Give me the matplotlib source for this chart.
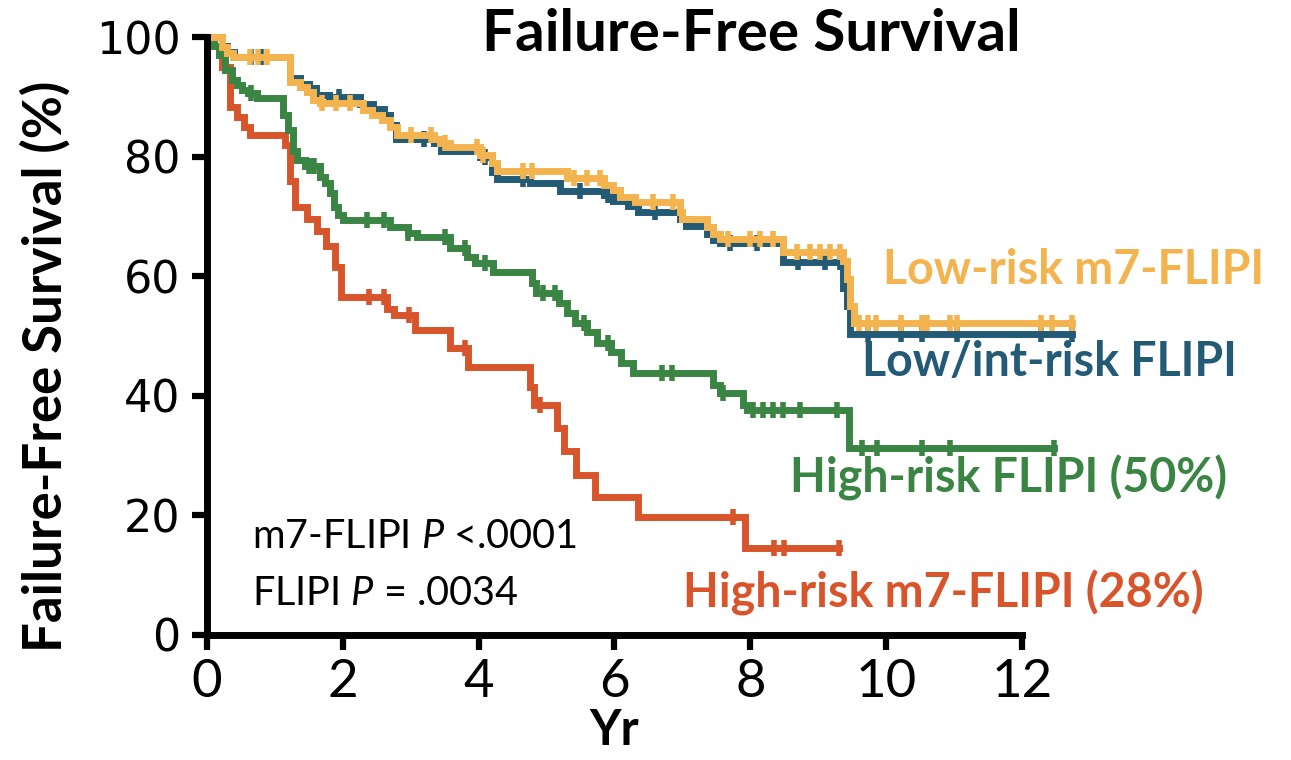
import numpy as np
import matplotlib.pyplot as plt

plt.rcParams['font.family'] = ['Lato', 'DejaVu Sans']
plt.rcParams['mathtext.fontset'] = 'custom'
plt.rcParams['mathtext.rm'] = 'Lato'
plt.rcParams['mathtext.it'] = 'Lato:italic'

# step curves: times (yr) where survival changes, survival (%) after the change
red_t = [0, 0.22, 0.34, 0.44, 0.55, 0.63, 1.15, 1.22, 1.30, 1.47, 1.62, 1.76, 1.88, 1.97,
         2.65, 2.75, 3.07, 3.58, 3.84, 4.75, 4.82, 5.15, 5.25, 5.43, 5.72, 6.35, 7.92, 9.3]
red_s = [100, 95, 88.3, 86.7, 85, 83.6, 82, 76, 71.5, 69.5, 67.5, 65, 61.5, 56.5,
         54.5, 53.5, 51, 48, 44.8, 41.4, 38.5, 34.6, 30.7, 26.7, 23.1, 19.7, 14.5, 14.5]
red_cens = [2.38, 2.6, 2.98, 3.8, 4.9, 7.75, 8.35, 8.5, 9.3]

green_t = [0, 0.1, 0.18, 0.27, 0.37, 0.44, 0.51, 0.6, 0.73, 1.12, 1.2, 1.27, 1.32, 1.45,
           1.66, 1.74, 1.81, 1.87, 1.93, 2.0, 2.7, 2.96, 3.09, 3.58, 3.83, 3.95, 4.21,
           4.78, 4.85, 5.18, 5.3, 5.42, 5.6, 5.75, 5.95, 6.1, 6.27, 7.45, 7.55, 7.9, 7.95,
           9.45, 12.47]
green_s = [100, 98.5, 97, 94.5, 92.8, 92, 91.2, 90.6, 89.8, 87, 84.4, 81, 79.4, 78.4,
           76.6, 75.6, 73.9, 71.5, 70.2, 69.4, 68.2, 67.2, 66.5, 64.7, 63.2, 62.2, 60.7,
           58.8, 57.2, 55.5, 53.8, 52.2, 50.7, 48.8, 47.3, 45.5, 43.8, 41.8, 40.5, 38.5, 37.6,
           31.3, 31.3]
green_cens = [0.65, 1.5, 1.58, 2.36, 2.6, 2.96, 3.5, 3.8, 4.1, 4.95, 5.12, 5.55, 5.9, 6.7,
              6.85, 7.6, 8.04, 8.19, 8.34, 8.48, 8.73, 9.28, 9.65, 9.87, 10.53, 10.94, 12.47]

blue_t = [0, 0.22, 0.3, 0.4, 1.22, 1.37, 1.5, 1.6, 1.8, 2.25, 2.45, 2.6, 2.7, 2.78, 3.35,
          3.45, 4.02, 4.2, 4.27, 4.75, 5.2, 5.84, 5.98, 6.2, 6.35, 6.96, 7.05, 7.36, 7.45,
          7.55, 8.48, 9.37, 9.43, 9.47, 12.74]
blue_s = [100, 98.5, 97.5, 96.7, 93.2, 92.2, 91.4, 90.3, 89.9, 88.8, 88, 86.9, 85.3, 83, 82.3,
          81, 80, 77.5, 76.3, 75.6, 74.3, 73.5, 72.5, 71.8, 70.8, 69.5, 68.4, 67, 66,
          65.5, 62.4, 58, 55, 50.3, 50.3]
blue_cens = [0.65, 0.8, 1.95, 3.2, 4.1, 4.66, 5.5, 5.9, 6.6, 7.7, 8.1, 8.7, 9.1, 9.32,
             9.74, 10.22, 10.53, 11.05, 12.28, 12.74]

orange_t = [0, 0.22, 0.29, 0.38, 1.22, 1.37, 1.47, 1.56, 1.66, 2.3, 2.43, 2.58, 2.7, 2.8,
            3.35, 3.43, 3.58, 4.02, 4.2, 4.27, 5.3, 5.84, 5.98, 6.08, 6.3, 6.96, 7.0, 7.36,
            7.45, 7.55, 8.48, 9.37, 9.43, 9.47, 9.52, 12.74]
orange_s = [100, 98.3, 97.3, 96.7, 92.5, 91.6, 90.8, 89.5, 89, 87.8, 87, 86.1, 85, 83.6,
            83, 82.2, 81.6, 80.3, 78.9, 77.6, 76.4, 75.2, 74.4, 73.3, 72.4, 70.8, 69.6, 68.3,
            67, 66.2, 64, 62.5, 59.5, 55, 52.2, 52.2]
orange_cens = [0.63, 0.75, 0.88, 1.7, 1.9, 2.1, 3.0, 3.3, 3.5, 3.97, 4.07, 4.66, 4.78, 5.4,
               5.6, 5.79, 6.57, 6.86, 7.67, 8.0, 8.14, 8.34, 8.69, 8.88, 9.03, 9.18, 9.32,
               9.6, 9.74, 9.85, 10.22, 10.53, 10.6, 10.94, 11.05, 12.28, 12.44, 12.74]

x_ticks = list(range(0, 13, 2))
y_ticks = list(range(0, 101, 20))

c_red = '#D8552C'
c_green = '#3B8544'
c_blue = '#235B77'
c_orange = '#F3B44F'

fig = plt.figure(figsize=(12.91, 7.6), dpi=100)
ax = fig.add_axes([0.1603, 0.1645, 0.6313, 0.7868])


def km(t, s, cens, col):
    ax.step(t, s, where='post', color=col, lw=5, clip_on=False, solid_joinstyle='miter')
    t = np.array(t)
    s = np.array(s)
    idx = np.searchsorted(t, cens, side='right') - 1
    ax.plot(cens, s[idx], ls='none', marker='|', ms=12, mew=4, color=col, clip_on=False)


km(red_t, red_s, red_cens, c_red)
km(green_t, green_s, green_cens, c_green)
km(blue_t, blue_s, blue_cens, c_blue)
km(orange_t, orange_s, orange_cens, c_orange)

ax.set_xlim(0, 12)
ax.set_ylim(0, 100)
ax.set_xticks(x_ticks, labels=[str(v) for v in x_ticks], fontsize=38)
ax.set_yticks(y_ticks, labels=[str(v) for v in y_ticks], fontsize=32, fontfamily='DejaVu Sans')
for sp in ['top', 'right']:
    ax.spines[sp].set_visible(False)
for sp in ['left', 'bottom']:
    ax.spines[sp].set_linewidth(5)
ax.tick_params(axis='both', length=11, width=4.5, direction='out')
ax.tick_params(axis='x', pad=6)
ax.tick_params(axis='y', pad=8)

ax.set_ylabel('Failure-Free Survival (%)', fontsize=38, fontweight='bold')
ax.yaxis.set_label_coords(-0.168, 0.45)
ax.set_xlabel('Yr', fontsize=35, fontweight='bold', labelpad=2)
fig.text(0.582, 0.955, 'Failure-Free Survival', fontsize=42, fontweight='bold',
         ha='center', va='center')

ax.text(9.96, 61.0, 'Low-risk m7-FLIPI', color=c_orange, fontsize=33.5, fontweight='bold',
        va='center', clip_on=False)
ax.text(9.65, 45.7, 'Low/int-risk FLIPI', color=c_blue, fontsize=33.5, fontweight='bold',
        va='center', clip_on=False)
ax.text(8.59, 26.3, 'High-risk FLIPI (50%)', color=c_green, fontsize=33.5, fontweight='bold',
        va='center', clip_on=False)
ax.text(7.01, 7.0, 'High-risk m7-FLIPI (28%)', color=c_red, fontsize=33.5, fontweight='bold',
        va='center', clip_on=False)

ax.text(0.66, 16.4, 'm7-FLIPI $P$ <.0001', fontsize=28.5, va='center')
ax.text(0.66, 7.0, 'FLIPI $P$ = .0034', fontsize=28.5, va='center')

fig.savefig('out.png', dpi=100)
